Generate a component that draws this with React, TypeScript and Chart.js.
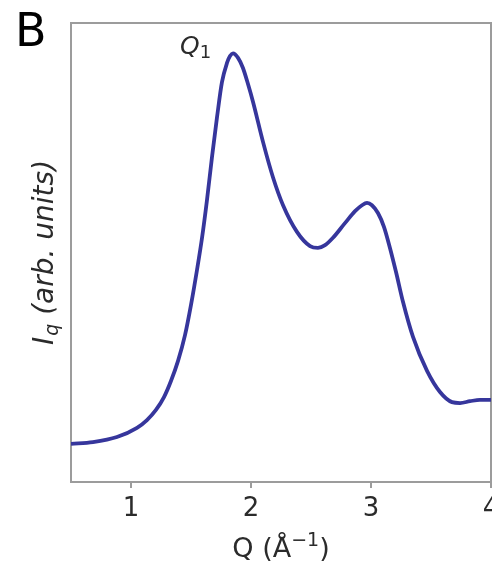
import React, { useEffect, useRef } from "react";
import { Chart, registerables } from "chart.js";

Chart.register(...registerables);

// Q values (Å^-1)
const qValues = [
  0.5, 0.683, 0.883, 1.05, 1.133, 1.208, 1.275, 1.333, 1.392, 1.45, 1.5, 1.55,
  1.592, 1.633, 1.675, 1.717, 1.758, 1.8, 1.825, 1.85, 1.892, 1.933, 1.975,
  2.017, 2.1, 2.183, 2.267, 2.383, 2.492, 2.558, 2.617, 2.683, 2.783, 2.867,
  2.925, 2.967, 3.008, 3.058, 3.108, 3.158, 3.208, 3.267, 3.35, 3.467, 3.575,
  3.675, 3.742, 3.825, 3.908, 4.0,
];
// Intensity (arb. units)
const intensity = [
  8.3, 8.7, 9.8, 11.8, 13.5, 15.7, 18.5, 22.0, 26.4, 32.0, 38.6, 46.2, 53.2,
  61.4, 70.8, 79.5, 87.1, 91.3, 92.8, 93.4, 92.4, 90.2, 86.7, 82.8, 74.1,
  66.4, 60.3, 54.5, 51.4, 51.0, 51.6, 53.2, 56.4, 59.0, 60.3, 60.8, 60.3,
  58.6, 55.6, 51.0, 45.8, 39.2, 31.6, 24.2, 19.6, 17.4, 17.2, 17.6, 17.9,
  17.9,
];
const xTicks = [1, 2, 3, 4];
const peakLabel = { q: 1.85, value: 93.5 };

const FONT = '"DejaVu Sans", sans-serif';
const LINE_COLOR = "#36369c";
const FRAME_COLOR = "#9c9c9c";
const TEXT_COLOR = "#2b2b2b";

const decorPlugin = {
  id: "decor",
  beforeDatasetsDraw(chart: any) {
    const { ctx, chartArea } = chart;
    ctx.save();
    ctx.strokeStyle = FRAME_COLOR;
    ctx.lineWidth = 2;
    ctx.strokeRect(
      chartArea.left,
      chartArea.top,
      chartArea.right - chartArea.left,
      chartArea.bottom - chartArea.top
    );
    ctx.restore();
  },
  afterDraw(chart: any) {
    const { ctx, chartArea, scales } = chart;
    ctx.save();
    ctx.fillStyle = "#000";
    // Panel letter
    ctx.font = `46px ${FONT}`;
    ctx.textBaseline = "alphabetic";
    ctx.textAlign = "left";
    ctx.fillText("B", 15, 46);

    // Q1 annotation
    ctx.fillStyle = TEXT_COLOR;
    const px = scales.x.getPixelForValue(peakLabel.q);
    const py = scales.y.getPixelForValue(peakLabel.value);
    ctx.font = `italic 25px ${FONT}`;
    const qx = px - 53;
    const qy = py + 1;
    ctx.fillText("Q", qx, qy);
    const qw = ctx.measureText("Q").width;
    ctx.font = `18px ${FONT}`;
    ctx.fillText("1", qx + qw, qy + 4);

    // x-axis title: Q (Å^-1)
    const cx = (chartArea.left + chartArea.right) / 2;
    const ty = 557;
    ctx.font = `27px ${FONT}`;
    const part1 = "Q (Å";
    const sup = "−1";
    const part3 = ")";
    const w1 = ctx.measureText(part1).width;
    const w3 = ctx.measureText(part3).width;
    ctx.font = `19px ${FONT}`;
    const w2 = ctx.measureText(sup).width;
    const x0 = cx - (w1 + w2 + w3) / 2;
    ctx.font = `27px ${FONT}`;
    ctx.fillText(part1, x0, ty);
    ctx.font = `19px ${FONT}`;
    ctx.fillText(sup, x0 + w1, ty - 11);
    ctx.font = `27px ${FONT}`;
    ctx.fillText(part3, x0 + w1 + w2, ty);

    // y-axis title: I_q (arb. units)
    ctx.save();
    ctx.translate(53, 253);
    ctx.rotate(-Math.PI / 2);
    ctx.font = `italic 28px ${FONT}`;
    const a = "I";
    const b = "q";
    const c = " (arb. units)";
    const wa = ctx.measureText(a).width;
    const wc = ctx.measureText(c).width;
    ctx.font = `italic 19px ${FONT}`;
    const wb = ctx.measureText(b).width;
    const sx = -(wa + wb + wc) / 2;
    ctx.font = `italic 28px ${FONT}`;
    ctx.fillText(a, sx, 0);
    ctx.font = `italic 19px ${FONT}`;
    ctx.fillText(b, sx + wa + 1, 5);
    ctx.font = `italic 28px ${FONT}`;
    ctx.fillText(c, sx + wa + wb + 1, 0);
    ctx.restore();

    ctx.restore();
  },
};

export default function App() {
  const canvasRef = useRef<HTMLCanvasElement | null>(null);

  useEffect(() => {
    if (!canvasRef.current) return;
    const points = qValues.map((q, i) => ({ x: q, y: intensity[i] }));
    const chart = new Chart(canvasRef.current, {
      type: "line",
      data: {
        datasets: [
          {
            data: points,
            borderColor: LINE_COLOR,
            borderWidth: 3.8,
            pointRadius: 0,
            cubicInterpolationMode: "monotone",
            fill: false,
          },
        ],
      },
      options: {
        animation: false,
        responsive: false,
        maintainAspectRatio: false,
        layout: { padding: { left: 71, top: 23, right: 39, bottom: 0 } },
        plugins: {
          legend: { display: false },
          tooltip: { enabled: false },
        },
        scales: {
          x: {
            type: "linear",
            min: 0.5,
            max: 4,
            afterBuildTicks: (axis: any) => {
              axis.ticks = xTicks.map((v) => ({ value: v }));
            },
            afterFit: (axis: any) => {
              axis.height = 85;
            },
            grid: {
              display: true,
              drawOnChartArea: false,
              drawTicks: true,
              tickLength: 6,
              color: FRAME_COLOR,
              lineWidth: 2,
            },
            border: { display: false },
            ticks: {
              font: { family: FONT, size: 26 },
              color: TEXT_COLOR,
              padding: 6,
              maxRotation: 0,
              callback: (v: any) => String(v),
            },
          },
          y: {
            type: "linear",
            display: false,
            min: 0,
            max: 100,
          },
        },
      },
      plugins: [decorPlugin],
    });
    return () => chart.destroy();
  }, []);

  return (
    <div
      style={{
        position: "absolute",
        left: 0,
        top: 0,
        width: 492,
        height: 567,
        overflow: "hidden",
        background: "#fff",
      }}
    >
      <canvas
        ref={canvasRef}
        width={530}
        height={567}
        style={{ width: 530, height: 567, display: "block" }}
      />
    </div>
  );
}
